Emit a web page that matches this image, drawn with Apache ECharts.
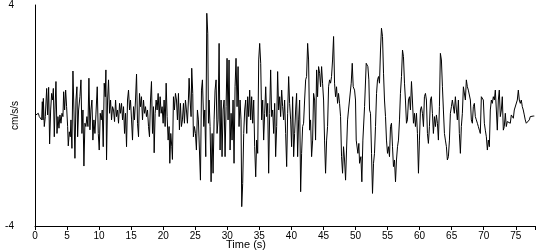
<!DOCTYPE html>
<html><head><meta charset="utf-8">
<script src="https://cdn.jsdelivr.net/npm/echarts@6/dist/echarts.min.js"></script>
<style>html,body{margin:0;padding:0;background:#fff}#c{width:550px;height:250px}</style>
</head><body><div id="c"></div>
<script>
var times = [0,0.26,0.52,0.67,0.88,1.04,1.14,1.25,1.30,1.45,1.61,1.82,1.97,2.13,2.28,2.44,2.6,2.75,2.86,3.01,3.12,3.27,3.43,3.58,3.74,3.89,4.05,4.21,4.36,4.47,4.62,4.78,4.93,5.09,5.19,5.35,5.5,5.61,5.76,5.92,6.07,6.23,6.39,6.54,6.65,6.8,7.01,7.17,7.32,7.48,7.63,7.79,7.94,8.1,8.26,8.41,8.57,8.72,8.88,9.03,9.19,9.35,9.5,9.71,9.87,10.02,10.18,10.33,10.49,10.64,10.8,10.96,11.06,11.16,11.32,11.47,11.63,11.79,11.94,12.1,12.25,12.41,12.57,12.72,12.88,13.03,13.19,13.34,13.5,13.66,13.81,13.97,14.12,14.28,14.43,14.59,14.75,14.9,15.06,15.21,15.37,15.52,15.68,15.84,15.99,16.15,16.3,16.46,16.61,16.77,16.93,17.08,17.24,17.39,17.55,17.71,17.86,18.02,18.17,18.33,18.48,18.59,18.74,18.9,19.05,19.21,19.37,19.52,19.68,19.83,19.99,20.14,20.3,20.46,20.61,20.77,20.92,21.03,21.18,21.34,21.44,21.6,21.75,21.91,22.07,22.22,22.38,22.53,22.69,22.84,23.0,23.16,23.31,23.47,23.62,23.78,23.93,24.04,24.19,24.35,24.45,24.61,24.71,24.87,25.03,25.18,25.34,25.49,
25.81,25.97,26.12,26.33,26.48,26.64,26.80,26.95,27.06,27.16,27.31,27.47,27.63,27.78,27.94,28.09,28.25,28.40,28.56,28.72,28.87,29.03,29.18,29.34,29.50,29.65,29.81,29.96,30.12,30.27,30.43,30.59,30.74,30.90,31.05,31.21,31.36,31.52,31.68,31.83,31.99,32.14,32.25,32.40,32.56,32.71,32.87,33.03,33.18,33.34,33.49,33.65,33.80,33.96,34.12,34.27,34.43,34.58,34.74,34.90,35.05,35.21,35.36,35.52,35.67,35.83,35.99,36.14,36.30,36.45,36.61,36.76,36.92,37.08,37.23,37.39,37.54,37.70,37.85,38.01,38.17,38.32,38.48,38.63,38.79,38.94,39.10,39.26,39.41,39.57,39.72,39.88,40.03,40.19,40.35,40.50,40.66,40.81,40.97,41.13,41.28,41.44,41.59,41.75,41.90,42.06,42.22,42.37,42.53,42.68,42.84,42.99,43.15,43.31,43.46,43.62,43.77,43.93,44.08,44.24,44.40,44.55,44.71,44.86,45.02,45.17,45.33,45.49,45.64,45.80,45.95,46.11,46.26,46.42,46.58,46.73,46.89,47.04,47.20,47.35,47.51,47.67,47.82,47.98,48.13,48.29,48.45,48.60,48.76,48.91,
49.07,49.33,49.49,49.64,49.85,50.00,50.11,50.37,50.52,50.63,50.84,50.99,51.15,51.41,51.67,51.93,52.08,52.19,52.34,52.50,52.65,52.81,52.96,53.12,53.28,53.43,53.59,53.74,53.90,54.05,54.21,54.37,54.52,54.68,54.83,54.99,55.14,55.30,55.46,55.61,55.77,55.92,56.08,56.24,56.39,56.55,56.70,56.86,57.01,57.17,57.33,57.48,57.64,57.79,57.95,58.10,58.26,58.42,58.57,58.73,58.88,59.04,59.19,59.35,59.51,59.66,59.82,59.97,60.13,60.28,60.44,60.60,60.75,60.91,61.06,61.22,61.37,61.53,61.69,61.84,62.00,62.15,62.31,62.47,62.62,62.78,62.93,63.09,63.24,63.40,63.56,63.71,63.87,64.02,64.18,64.33,64.49,64.65,64.80,64.96,65.11,65.27,65.42,65.58,65.74,65.89,66.05,66.20,66.36,66.51,66.67,66.83,66.98,67.14,67.29,67.45,67.60,67.76,67.92,68.07,68.23,68.38,68.54,68.69,68.85,69.01,69.16,69.32,69.47,69.63,69.79,69.94,70.10,70.25,70.41,70.57,70.72,70.88,71.03,71.19,71.34,71.50,71.66,71.81,71.97,72.12,72.28,72.43,72.59,72.75,72.90,73.06,73.21,73.37,73.52,73.68,73.84,73.99,74.15,74.30,74.46,74.62,74.77,74.93,75.08,75.24,75.40,75.55,75.71,75.86,76.02,76.17,76.33,76.48,76.64,76.80,76.95,77.11,77.26,77.42,77.57,77.73,77.89];

var accel = [0.0,0.05,0.08,-0.04,-0.1,-0.16,0.5,-0.16,0.62,-0.4,-0.04,0.98,0.02,1.02,-1.03,0.2,0.8,0.56,0.98,-0.77,0.2,1.23,-0.65,-0.04,-0.46,0.02,-0.28,0.08,-0.04,0.86,0.2,0.92,0.32,-0.4,-1.1,-0.59,-0.77,-0.16,-1.19,1.61,0.2,-1.55,0.56,1.04,-0.77,0.2,0.68,1.29,-0.65,0.2,-1.83,-0.28,-0.4,-0.04,-0.4,1.35,-0.52,0.2,0.56,-0.89,-0.16,-0.65,0.02,1.04,-0.65,-1.25,0.08,-0.16,0.2,-1.13,1.17,0.68,1.65,-1.61,0.56,1.29,0.08,0.56,-0.16,0.32,0.2,-0.22,0.56,-0.04,0.2,-0.28,0.44,0.08,0.44,-0.16,0.32,-0.65,0.08,-1.13,0.56,0.92,0.2,0.56,-0.16,-0.89,0.32,-0.16,0.56,1.5,-0.28,-0.77,0.8,0.32,0.68,-0.16,0.56,0.08,0.32,-0.04,0.2,-0.4,-0.77,0.56,1.23,-0.65,0.32,-1.35,0.08,0.56,0.2,0.8,-0.04,0.68,0.08,0.32,-0.28,0.56,-0.4,1.17,-0.04,-0.89,-0.4,-1.73,-0.65,-1.13,-1.59,0.68,0.2,0.8,0.56,-0.16,0.8,-0.52,0.44,-0.4,-0.16,0.44,-0.28,0.56,0.2,-0.28,0.56,1.35,0.56,-0.04,1.71,0.8,-0.77,-0.4,-0.65,-1.25,0.2,-0.16,
-2.34,0.92,1.29,-0.4,0.2,-1.49,3.70,2.98,-0.28,0.56,-0.4,-2.40,-0.65,-2.09,-0.16,0.92,1.29,-0.65,-0.16,2.61,-1.25,0.56,-1.49,0.2,0.56,-1.49,0.32,2.07,-0.16,2.01,-1.25,0.08,-0.89,0.56,-1.73,1.04,2.07,0.32,1.77,-0.40,0.56,-0.16,-3.30,-2.46,-0.65,0.2,0.56,-0.65,0.68,-0.04,0.92,-0.16,0.68,-0.28,0.56,-1.13,-2.22,-0.89,-1.37,2.01,2.61,1.89,-0.16,0.56,-0.89,0.08,1.04,-0.04,0.44,-2.09,0.08,1.65,-0.04,0.2,-0.65,0.44,-1.49,-0.40,1.59,0.2,0.68,-0.04,0.92,0.32,-0.16,0.56,-0.65,-1.85,0.08,1.41,0.44,-0.16,-1.13,0.68,-1.49,-0.65,0.2,0.8,-1.49,-0.16,0.56,-2.76,-1.37,-0.40,-0.28,0.56,1.29,1.41,2.61,2.01,-0.53,-0.16,-1.49,-0.89,0.8,0.56,-0.89,1.65,0.68,1.77,1.53,1.04,1.77,1.17,0.56,-0.89,-2.09,-0.89,-0.40,1.04,1.29,1.17,1.41,2.01,2.86,1.17,0.68,1.04,0.44,0.8,0.44,-0.04,-1.49,-2.09,-1.13,-1.61,-2.34,-1.25,-0.16,0.2,
0.2,1.17,1.89,1.04,0.92,0.56,-0.89,-1.37,-1.01,-1.73,-1.49,-2.40,-0.89,0.32,1.89,1.77,1.29,0.2,0.08,-1.37,-2.82,-1.73,-1.37,-0.40,0.8,1.29,1.41,1.17,2.37,3.16,2.86,1.53,0.56,-0.04,-0.89,-1.37,-1.13,-1.49,-0.40,-0.28,-1.13,-1.85,-1.61,-2.40,-1.61,-1.13,-0.89,-0.16,0.8,1.41,2.37,2.13,1.17,0.56,-0.28,-0.16,0.56,0.68,0.2,1.23,0.56,-0.28,0.08,-0.40,0.08,-0.65,-2.09,-0.89,0.2,0.32,0.08,-0.40,0.68,0.8,0.56,-0.65,-1.01,-0.40,0.56,0.68,0.08,-0.65,-0.04,-0.40,0.02,-0.28,-0.89,0.32,2.25,2.01,1.04,0.2,-0.65,-0.89,-1.13,-1.61,-1.49,-0.89,0.08,0.32,0.56,0.56,0.08,0.68,0.2,-0.16,0.56,-0.65,-1.37,-0.40,0.08,1.04,1.11,0.56,1.29,1.04,0.92,0.92,0.56,-0.16,-0.28,0.32,0.44,-0.04,-0.16,-0.28,-0.40,-0.53,-0.65,0.68,0.74,0.56,-0.28,-0.53,-0.77,-1.25,-0.89,-1.13,0.2,0.56,0.44,0.68,0.56,0.92,0.2,-0.53,0.56,0.92,-0.04,0.2,0.68,-0.53,-0.40,0.08,-0.40,-0.22,-0.28,-0.16,-0.28,0.02,0.08,-0.10,0.2,0.26,0.2,0.56,0.92,0.56,0.44,0.56,0.32,0.2,0.02,-0.16,-0.28,-0.34,-0.28,-0.16,-0.04,-0.02,-0.02,-0.02,-0.02];

var xTicks = [0,5,10,15,20,25,30,35,40,45,50,55,60,65,70,75];
var yTicks = [-4,4];

var chart = echarts.init(document.getElementById('c'));
var pts = times.map(function(t,i){return [t, accel[i]];});
var font = 'Liberation Sans';
chart.setOption({
  animation:false,
  grid:{left:35,right:15,top:5,bottom:24,containLabel:false,outerBoundsMode:'none'},
  xAxis:{type:'value',min:0,max:78,interval:5,
    name:'Time (s)',nameLocation:'middle',nameGap:13,nameMoveOverlap:false,
    nameTextStyle:{color:'#000',fontSize:11,fontFamily:font,padding:[0,78,0,0]},
    axisLine:{onZero:false,lineStyle:{color:'#000',width:1}},
    axisTick:{show:true,length:4,lineStyle:{color:'#000'}},
    axisLabel:{color:'#000',fontSize:10,fontFamily:font,margin:5,
      formatter:function(v){return xTicks.indexOf(v)>=0?String(v):'';}},
    splitLine:{show:false}},
  yAxis:{type:'value',min:-4,max:4,interval:4,
    name:'cm/s/s',nameLocation:'middle',nameGap:15,nameRotate:90,nameMoveOverlap:false,
    nameTextStyle:{color:'#000',fontSize:10,fontFamily:font},
    axisLine:{show:true,onZero:false,lineStyle:{color:'#000',width:1}},
    axisTick:{show:false},
    axisLabel:{color:'#000',fontSize:10,fontFamily:font,margin:21,
      formatter:function(v){return yTicks.indexOf(v)>=0?String(v):'';}},
    splitLine:{show:false}},
  series:[{type:'line',data:pts,showSymbol:false,symbol:'none',
    lineStyle:{color:'#000',width:1},emphasis:{disabled:true}}]
});
</script></body></html>
